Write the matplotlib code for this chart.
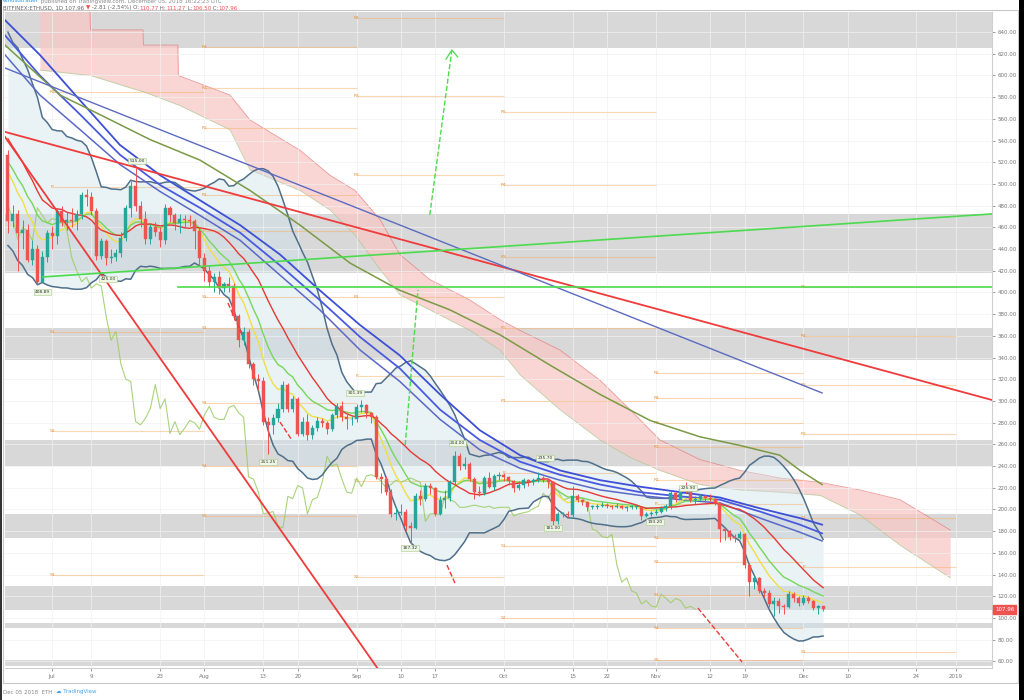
import numpy as np
import pandas as pd
import matplotlib.pyplot as plt
from matplotlib.patches import Rectangle

# ETHUSD daily candles, Jun 22 2018 -> Dec 05 2018 (day 0 = Jun 22)
warmup_close = [590, 619, 592, 608, 605, 603, 600, 597, 525, 531,
                492, 475, 518, 488, 497, 499, 517, 537, 536, 527]   # Jun 2 - Jun 21
first_open = 527.0

close = [466, 472, 455, 458, 430, 440, 410, 433, 455,
         452, 475, 465, 467, 466, 472, 490, 488, 475, 434, 447, 432, 433, 436, 450, 478,
         498, 480, 468, 449, 460, 456, 448, 478, 471, 464, 468, 467, 466, 457, 432,
         420, 410, 414, 404, 408, 406, 378, 356, 364, 334, 320, 318, 281, 278, 284, 293,
         315, 293, 302, 270, 281, 269, 275, 282, 280, 274, 287, 295, 285, 283, 283,
         294, 296, 289, 285, 230, 228, 216, 196, 197, 198, 185, 183, 212, 210, 222, 220,
         196, 209, 211, 225, 249, 240, 242, 228, 216, 215, 229, 221, 231, 232,
         230, 226, 220, 223, 227, 225, 227, 229, 227, 225, 189, 196, 196, 195, 212, 209,
         207, 202, 202, 203, 204, 203, 202, 203, 201, 202, 202, 202, 194, 196, 197,
         198, 201, 203, 215, 210, 219, 217, 209, 210, 212, 211, 210, 206, 182, 180, 175,
         174, 177, 149, 133, 137, 125, 123, 113, 116, 111, 110, 122, 118, 114,
         118, 116, 109, 110.77, 107.96]
high = [531, 481, 476, 467, 463, 448, 444, 438, 458,
        461, 478, 480, 474, 478, 476, 493, 495, 493, 478, 450, 449, 440, 440, 456, 481,
        503, 515, 484, 475, 463, 465, 460, 482, 480, 473, 472, 471, 471, 468, 460,
        436, 425, 418, 420, 410, 414, 409, 380, 368, 366, 336, 325, 322, 285, 288, 298,
        318, 317, 305, 304, 285, 288, 278, 285, 284, 282, 289, 298, 300, 288, 286,
        297, 301, 297, 290, 287, 234, 231, 219, 202, 205, 200, 188, 215, 218, 224, 224,
        221, 212, 218, 227, 254, 252, 248, 244, 230, 222, 231, 235, 233, 235,
        234, 231, 227, 226, 229, 228, 229, 235, 231, 228, 226, 198, 198, 199, 222, 214,
        210, 208, 204, 205, 207, 206, 204, 206, 204, 203, 204, 203, 203, 198, 199,
        200, 203, 205, 217, 216, 222, 225, 219, 212, 214, 213, 214, 211, 207, 183, 181,
        177, 180, 178, 151, 140, 138, 128, 126, 119, 118, 113, 125, 124, 120,
        121, 120, 117, 112, 111.27]
low = [455, 460, 420, 440, 428, 425, 408, 410, 428,
       440, 445, 461, 458, 460, 458, 468, 480, 471, 430, 431, 425, 427, 429, 433, 447,
       470, 475, 460, 445, 445, 452, 442, 445, 465, 458, 455, 460, 461, 440, 425,
       411, 405, 400, 399, 400, 400, 375, 350, 352, 330, 315, 310, 278, 251, 270, 281,
       290, 290, 290, 268, 268, 264, 265, 272, 276, 270, 272, 284, 282, 274, 278,
       281, 290, 284, 280, 228, 215, 213, 193, 190, 195, 180, 168, 182, 204, 208, 214,
       194, 195, 201, 208, 223, 236, 237, 226, 210, 212, 213, 220, 218, 227,
       226, 223, 216, 218, 220, 222, 223, 225, 225, 220, 182, 187, 193, 193, 193, 207,
       204, 199, 200, 200, 202, 201, 200, 201, 200, 199, 200, 200, 190, 193, 194,
       195, 197, 199, 200, 207, 209, 215, 207, 205, 209, 207, 208, 204, 170, 172, 172,
       170, 173, 146, 120, 127, 123, 119, 110, 102, 105, 104, 109, 115, 111,
       112, 114, 107, 104, 106.5]

# slow moving averages
ma_days = [-0.6, 6.5, 14.7, 22.8, 31.0, 39.1, 47.3, 55.4, 63.5, 71.7, 79.8,
           88.0, 96.1, 104.3, 112.4, 120.6, 128.7, 136.9, 145.0, 153.2, 161.3, 165.8]
ma_blue1 = [651, 619, 577, 536, 508, 485, 462, 435, 402, 370, 342,
            306, 273, 250, 236, 227, 221, 216, 211, 201, 192, 186]
ma_blue2 = [637, 600, 564, 527, 499, 478, 455, 425, 393, 359, 330,
            292, 264, 244, 232, 223, 216, 212, 209, 198, 186, 178]
ma_blue3 = [619, 582, 550, 518, 493, 471, 448, 416, 384, 347, 318,
            283, 255, 238, 227, 218, 213, 209, 206, 192, 179, 171]
olive_days = [-0.6, 10.6, 18.7, 28.9, 39.1, 49.3, 59.5, 69.7, 79.8, 90.0,
              100.2, 110.4, 120.6, 130.8, 140.9, 149.1, 157.2, 161.3, 165.8]
olive_ma = [628, 582, 564, 541, 522, 494, 462, 427, 402, 384,
            361, 333, 306, 282, 267, 259, 250, 236, 223]

# ichimoku cloud
cloud_days = [6.5, 16.7, 16.8, 27.5, 27.6, 34.6, 34.7, 45.2, 49.3, 59.5, 65.6, 70.7,
              75.8, 79.8, 85.9, 94.1, 100.2, 104.3, 112.4, 120.6, 126.7, 132.8, 140.9,
              149.1, 157.2, 165.4, 173.5, 181.7, 191.9]
cloud_top = [662, 662, 642, 642, 628, 628, 600, 582, 559, 531, 508, 494,
             467, 435, 412, 393, 375, 365, 347, 319, 292, 264, 246,
             236, 229, 225, 218, 209, 181]
cloud_bottom = [605, 600, 600, 585, 585, 573, 573, 550, 513, 494, 476, 453,
                421, 398, 384, 365, 347, 324, 292, 264, 248, 236, 223,
                218, 216, 213, 195, 167, 137]

# support / resistance zones
zones = [(625.4, 662), (418.0, 472.4), (337.8, 367.3), (240.1, 264.1),
         (173.7, 195.9), (107.4, 129.5), (90.8, 95.4), (55.8, 61.3)]

# monthly pivot points
pivot_start = [9, 40, 71, 101, 132, 162]
pivot_end = [40, 71, 101, 132, 162, 193]
pivot_names = [['R1', 'P', 'S1', 'S2', 'S3'],
               ['R4', 'R3', 'R2', 'R1', 'P', 'S1', 'S2', 'S3', 'S4', 'S5'],
               ['R4', 'R3', 'R2', 'R1', 'P', 'S1', 'S2'],
               ['R5', 'R4', 'R3', 'R2', 'R1', 'P', 'S1', 'S2'],
               ['R5', 'R4', 'R3', 'R2', 'R1', 'P', 'S1', 'S2', 'S3', 'S4', 'S5'],
               ['R5', 'R4', 'R3', 'R2', 'R1', 'P', 'S1']]
pivot_levels = [[585, 497, 364, 272, 140],
                [626, 588, 552, 490, 457, 396, 367, 298, 240, 194],
                [653, 581, 508, 396, 323, 226, 138],
                [566, 499, 433, 367, 300, 234, 166, 100],
                [326, 303, 280, 258, 227, 205, 174, 152, 121, 91, 61],
                [405, 360, 315, 270, 192, 147, 69]]

# swing labels
swing_days = [7.1, 20.4, 26.3, 53.0, 70.7, 81.9, 91.6, 109.4, 111.0, 131.8, 138.5]
swing_prices = [400.5, 412.4, 521.2, 243.8, 307.4, 164.5, 261.3, 247.5, 183.0, 188.5, 219.8]
swing_text = ['408.89', '425.00', '515.00', '251.25', '301.39', '167.32',
              '254.00', '235.70', '181.00', '193.20', '225.90']

# x axis labels
tick_days = [9, 17, 31, 40, 52, 59, 71, 80, 87, 101, 115, 122, 132, 143, 150, 162, 171, 185, 193]
tick_text = ['Jul', '9', '23', 'Aug', '13', '20', 'Sep', '10', '17', 'Oct', '15', '22',
             'Nov', '12', '19', 'Dec', '10', '24', '2019']

UP, DOWN = '#26a69a', '#ef5350'

fig = plt.figure(figsize=(10.24, 7), dpi=100)
ax = fig.add_axes([5 / 1024, 32 / 700, 987 / 1024, 656 / 700])
ax.set_xlim(-0.6, 200.4)
ax.set_ylim(53.9, 658.5)

# zones
for lo_, hi_ in zones:
    ax.axhspan(lo_, hi_, color='#d4d4d4', alpha=0.9, lw=0, zorder=0)

# cloud
ax.fill_between(cloud_days, cloud_bottom, cloud_top, color='#f8c9c6', alpha=0.75, lw=0, zorder=1)
ax.plot(cloud_days, cloud_top, color='#e57373', lw=0.6, alpha=0.7, zorder=1)
ax.plot(cloud_days, cloud_bottom, color='#a5c98a', lw=0.6, alpha=0.7, zorder=1)

# indicators from the closes
days = np.arange(len(close))
s = pd.Series(warmup_close + close, dtype=float)
n0 = len(warmup_close)
ema8 = s.ewm(span=8, adjust=False).mean().iloc[n0:].values
ema13 = s.ewm(span=13, adjust=False).mean().iloc[n0:].values
basis = s.rolling(20, min_periods=1).mean().iloc[n0:].values
dev = s.rolling(20, min_periods=1).std(ddof=0).iloc[n0:].values
bb_up = basis + 2 * dev
bb_lo = basis - 2 * dev

ax.fill_between(days, bb_lo, bb_up, color='#cfe3ea', alpha=0.45, lw=0, zorder=1.5)
ax.plot(days, bb_up, color='#4f6f8a', lw=1.1, zorder=3)
ax.plot(days, bb_lo, color='#4f6f8a', lw=1.1, zorder=3)

# pivots
for i in range(len(pivot_start)):
    for name, lev in zip(pivot_names[i], pivot_levels[i]):
        ax.hlines(lev, pivot_start[i], pivot_end[i], color='#f6b26b', lw=0.8, alpha=0.5, zorder=2)
        ax.text(pivot_start[i], lev, name, color='#e69138', fontsize=3.2,
                ha='center', va='center', zorder=2.5, clip_on=True)

# lagging span
ax.plot(days[26:] - 26, close[26:], color='#9ccc65', lw=0.8, alpha=0.85, zorder=2.5)

ax.plot(ma_days, ma_blue1, color='#3d4fd6', lw=1.3, zorder=3)
ax.plot(ma_days, ma_blue2, color='#4a5ae0', lw=1.3, zorder=3)
ax.plot(ma_days, ma_blue3, color='#5a68c8', lw=1.1, zorder=3)
ax.plot(olive_days, olive_ma, color='#7a9a45', lw=1.1, zorder=3)
ax.plot(days, ema8, color='#f0df45', lw=1.0, zorder=3)
ax.plot(days, ema13, color='#77d65b', lw=1.0, zorder=3)
ax.plot(days, basis, color='#e53935', lw=1.0, zorder=3)

# candles
opens = [first_open] + close[:-1]
o = np.array(opens)
c = np.array(close)
cols = np.where(c >= o, UP, DOWN)
ax.vlines(days, low, high, colors=cols, lw=0.7, zorder=4)
ax.bar(days, np.maximum(np.abs(c - o), 0.8), bottom=np.minimum(o, c), width=0.62,
       color=cols, edgecolor=cols, lw=0.3, zorder=4)

# trend lines
ax.plot([-0.6, 200.4], [548.0, 300.9], color='#ef3b3b', lw=1.3, zorder=5)
ax.plot([-0.6, 75.8], [543.3, 50.2], color='#ef3b3b', lw=1.3, zorder=5)
ax.plot([-0.6, 165.8], [606.9, 307.4], color='#5c6bc0', lw=1.0, zorder=5)
ax.plot([7.1, 200.4], [414.3, 472.4], color='#4cdb4c', lw=1.2, zorder=5)
ax.plot([34.6, 200.4], [405.1, 405.1], color='#4cdb4c', lw=1.2, zorder=5)

# projections
ax.plot([85.9, 90.4], [471.4, 623.5], color='#4cdb4c', lw=1.0, ls='--', zorder=5)
ax.plot([89.2, 90.4, 91.6], [615, 623.5, 617], color='#4cdb4c', lw=0.9, zorder=5)
ax.plot([80.9, 83.5], [259.4, 402.3], color='#4cdb4c', lw=1.0, ls='--', zorder=5)
ax.plot([44.8, 47.7], [390.3, 360.8], color='#ef3b3b', lw=1.0, ls='--', zorder=5)
ax.plot([55.4, 57.8], [280.6, 264.1], color='#ef3b3b', lw=1.0, ls='--', zorder=5)
ax.plot([89.4, 91.2], [148.8, 130.4], color='#ef3b3b', lw=1.0, ls='--', zorder=5)
ax.plot([140.5, 149.5], [109.2, 59.4], color='#ef3b3b', lw=1.0, ls='--', zorder=5)

for xd, yp, t in zip(swing_days, swing_prices, swing_text):
    ax.text(xd, yp, t, fontsize=3.2, color='#333333', ha='center', va='center', zorder=6,
            bbox=dict(boxstyle='square,pad=0.25', fc='#eef6e4', ec='#a8c98a', lw=0.4))

# axes styling
ax.yaxis.tick_right()
yt = np.arange(60, 641, 20)
ax.set_yticks(yt)
ax.set_yticklabels([f'{v:.2f}' for v in yt])
ax.set_xticks(tick_days)
ax.set_xticklabels(tick_text)
ax.tick_params(axis='both', labelsize=4, colors='#777777', length=2, width=0.5, pad=2)
ax.grid(color='#f1f1f1', lw=0.5, zorder=-1)
for sp in ['top', 'left']:
    ax.spines[sp].set_visible(False)
for sp in ['right', 'bottom']:
    ax.spines[sp].set_color('#cfcfcf')
    ax.spines[sp].set_linewidth(0.8)

ax.text(1.003, close[-1], f'{close[-1]:.2f}', transform=ax.get_yaxis_transform(),
        fontsize=4, color='white', ha='left', va='center', zorder=7, clip_on=False,
        bbox=dict(boxstyle='square,pad=0.35', fc='#ef5350', ec='#ef5350'))

# frame
fig.patches.append(Rectangle((3 / 1024, 17 / 700), 1015 / 1024, 673 / 700, transform=fig.transFigure,
                             fill=False, ec='#c8c8c8', lw=0.8))
fig.patches.append(Rectangle((1019 / 1024, 0), 5 / 1024, 1, transform=fig.transFigure,
                             fc='black', ec='none'))
fig.patches.append(Rectangle((0, 0), 1.5 / 1024, 1, transform=fig.transFigure,
                             fc='#333333', ec='none'))


def pieces(x0, y, parts, size):
    r = fig.canvas.get_renderer()
    x = x0
    for txt, col in parts:
        t = fig.text(x, y, txt, color=col, fontsize=size, ha='left', va='center')
        x += t.get_window_extent(renderer=r).width / fig.bbox.width


pieces(3 / 1024, 1 - 1 / 700, [('ethusdtrader', '#2196f3'),
                               (' published on TradingView.com, December 05, 2018 16:22:23 UTC', '#888888')], 4)
pieces(3 / 1024, 1 - 8 / 700, [('BITFINEX:ETHUSD, 1D 107.96 ', '#666666'), ('▼', '#ef5350'),
                               (' -2.81 (-2.54%) O:', '#666666'), ('110.77', '#ef5350'),
                               (' H:', '#666666'), ('111.27', '#ef5350'),
                               (' L:', '#666666'), ('106.50', '#ef5350'),
                               (' C:', '#666666'), ('107.96', '#ef5350')], 4)
pieces(3 / 1024, 1 - 692 / 700, [('Dec 05 2018  ETH  ', '#888888'), ('☁ TradingView', '#4aa3e8')], 4)

fig.savefig('out.png', dpi=100)
